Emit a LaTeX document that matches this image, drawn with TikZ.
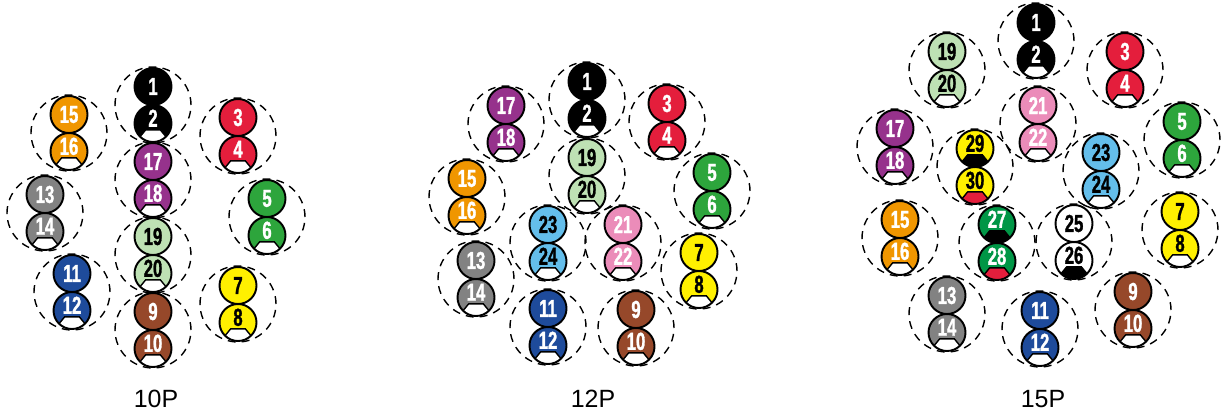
\documentclass[tikz,border=0pt]{standalone}
\usepackage{fontspec}
\setsansfont{Liberation Sans}
\newfontfamily\ballfont{Liberation Sans}[FakeStretch=0.68, FakeBold=1.2]
\usetikzlibrary{positioning}

\definecolor{cRed}{RGB}{228,30,60}
\definecolor{cGreen}{RGB}{45,165,60}
\definecolor{cDkGreen}{RGB}{0,150,70}
\definecolor{cYellow}{RGB}{255,240,0}
\definecolor{cBrown}{RGB}{150,72,42}
\definecolor{cBlue}{RGB}{30,75,155}
\definecolor{cGrey}{RGB}{130,130,130}
\definecolor{cOrange}{RGB}{240,150,0}
\definecolor{cPurple}{RGB}{150,50,140}
\definecolor{cLtGreen}{RGB}{190,225,180}
\definecolor{cPink}{RGB}{235,140,185}
\definecolor{cLtBlue}{RGB}{100,190,235}

\tikzset{
  ring/.style={circle, draw, line width=0.8pt, dash pattern=on 4.5pt off 3.5pt,
    minimum size=1.52cm, inner sep=0pt, outer sep=0pt},
  ball/.style={circle, draw, line width=1.1pt, minimum size=0.74cm, inner sep=0pt,
    outer sep=0pt, font=\ballfont\bfseries\fontsize{14}{14}\selectfont},
  cap/.style={text depth=6pt, path picture={
    \filldraw[fill=#1, line width=0.8pt]
      ([shift={(-7.3,6.3)}]path picture bounding box.center)
      -- ([shift={(7.3,6.3)}]path picture bounding box.center)
      -- ([shift={(20.2,22)}]path picture bounding box.center)
      -- ([shift={(-20.2,22)}]path picture bounding box.center) -- cycle;}},
  bBlack/.style={fill=black, text=white},
  bRed/.style={fill=cRed, text=white},
  bGreen/.style={fill=cGreen, text=white},
  bDkGreen/.style={fill=cDkGreen, text=white},
  bYellow/.style={fill=cYellow, text=black},
  bBrown/.style={fill=cBrown, text=white},
  bBlue/.style={fill=cBlue, text=white},
  bGrey/.style={fill=cGrey, text=white},
  bOrange/.style={fill=cOrange, text=white},
  bPurple/.style={fill=cPurple, text=white},
  bLtGreen/.style={fill=cLtGreen, text=black},
  bPink/.style={fill=cPink, text=white},
  bLtBlue/.style={fill=cLtBlue, text=black},
  bWhite/.style={fill=white, text=black},
  caption/.style={font=\sffamily\fontsize{14.2}{14.2}\selectfont}
}

% #1 name, #2 centre, #3/#4 numbers, #5 colour style, #6/#7 extra for top/bottom ball
\newcommand{\pair}[7]{%
  \node[ring] (#1) at (#2) {};
  \node[ball, #5, anchor=south, #6] (#1t) at (#1.center) {#3};
  \node[ball, #5, anchor=north, #7] (#1b) at (#1.center) {#4};
}

\begin{document}
\begin{tikzpicture}[x=0.02cm, y=-0.02cm]
  \useasboundingbox (0,0) rectangle (1222,416);

  % 10P
  \pair{a1}{153,105}{1}{2}{bBlack}{}{cap=white}
  \pair{a17}{153,180}{17}{18}{bPurple}{}{cap=white}
  \pair{a19}{153,255}{19}{20}{bLtGreen}{}{cap=white}
  \pair{a9}{153,330}{9}{10}{bBrown}{}{cap=white}
  \pair{a15}{69,133}{15}{16}{bOrange}{}{cap=white}
  \pair{a13}{45,213}{13}{14}{bGrey}{}{cap=white}
  \pair{a11}{72,292}{11}{12}{bBlue}{}{cap=white}
  \pair{a3}{238,136}{3}{4}{bRed}{}{cap=white}
  \pair{a5}{267,217}{5}{6}{bGreen}{}{cap=white}
  \pair{a7}{238,304}{7}{8}{bYellow}{}{cap=white}
  \node[caption] (l10) at (156,399) {10P};

  % 12P
  \pair{b1}{587,100}{1}{2}{bBlack}{}{cap=white}
  \pair{b3}{667,122}{3}{4}{bRed}{}{cap=white}
  \pair{b17}{506,124}{17}{18}{bPurple}{}{cap=white}
  \pair{b19}{587,176}{19}{20}{bLtGreen}{}{cap=white}
  \pair{b15}{467,197}{15}{16}{bOrange}{}{cap=white}
  \pair{b5}{712,191}{5}{6}{bGreen}{}{cap=white}
  \pair{b23}{548,243}{23}{24}{bLtBlue}{}{cap=white}
  \pair{b21}{623,243}{21}{22}{bPink}{}{cap=white}
  \pair{b13}{476,279}{13}{14}{bGrey}{}{cap=white}
  \pair{b7}{699,271}{7}{8}{bYellow}{}{cap=white}
  \pair{b11}{548,327}{11}{12}{bBlue}{}{cap=white}
  \pair{b9}{636,328}{9}{10}{bBrown}{}{cap=white}
  \node[caption] (l12) at (593,399) {12P};

  % 15P
  \pair{c1}{1036,41}{1}{2}{bBlack}{}{cap=white}
  \pair{c19}{947,70}{19}{20}{bLtGreen}{}{cap=white}
  \pair{c3}{1125,70}{3}{4}{bRed}{}{cap=white}
  \pair{c21}{1038,124}{21}{22}{bPink}{}{cap=white}
  \pair{c17}{895,147}{17}{18}{bPurple}{}{cap=white}
  \pair{c5}{1182,140}{5}{6}{bGreen}{}{cap=white}
  \pair{c29}{975,167}{29}{30}{bYellow}{cap=black}{cap=cRed}
  \pair{c23}{1101,171}{23}{24}{bLtBlue}{}{cap=white}
  \pair{c15}{900,238}{15}{16}{bOrange}{}{cap=white}
  \pair{c27}{997,243}{27}{28}{bDkGreen}{cap=black}{cap=cRed}
  \pair{c25}{1074,242}{25}{26}{bWhite}{}{cap=black}
  \pair{c7}{1180,230}{7}{8}{bYellow}{}{cap=white}
  \pair{c13}{947,314}{13}{14}{bGrey}{}{cap=white}
  \pair{c11}{1040,329}{11}{12}{bBlue}{}{cap=white}
  \pair{c9}{1133,310}{9}{10}{bBrown}{}{cap=white}
  \node[caption] (l15) at (1043,399) {15P};
\end{tikzpicture}
\end{document}
